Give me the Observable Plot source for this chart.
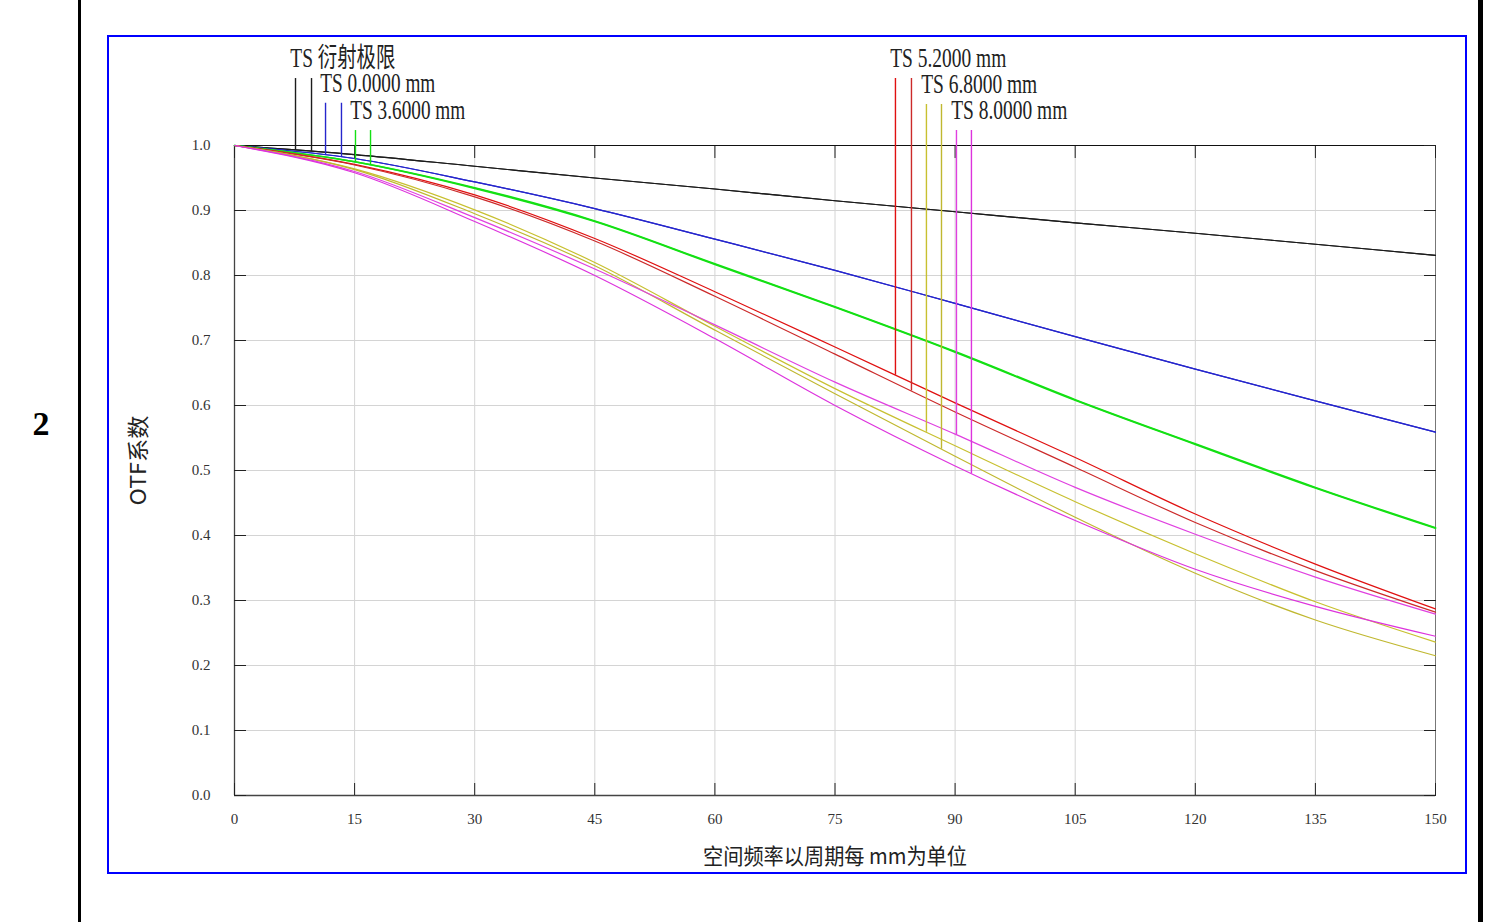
<!DOCTYPE html>
<html>
<head>
<meta charset="utf-8">
<script src="https://cdn.jsdelivr.net/npm/d3@7"></script>
<script src="https://cdn.jsdelivr.net/npm/@observablehq/plot@0.6"></script>
<style>
  body { margin: 0; background: #fff; }
  #wrap { position: relative; width: 1485px; height: 922px; overflow: hidden; background: #fff; }
  #chart { position: absolute; left: 0; top: 0; }
  .vline { position: absolute; top: 0; height: 922px; background: #000; }
  #blueBox { position: absolute; left: 107px; top: 35px; width: 1356px; height: 835px; border: 2px solid #0000ff; box-sizing: content-box; pointer-events: none; }
  #rowNum { position: absolute; left: 28px; top: 405px; width: 26px; text-align: center; font-family: "Liberation Serif", serif; font-weight: bold; font-size: 34px; }
</style>
</head>
<body>
<div id="wrap">
  <div class="vline" style="left:78px;width:3px;"></div>
  <div class="vline" style="left:1478px;width:5px;"></div>
  <div id="blueBox"></div>
  <div id="rowNum">2</div>
  <div id="chart"></div>
</div>
<script>
// ---- data ----
const freq = [0, 15, 30, 45, 60, 75, 90, 105, 120, 135, 150];

const diffT = [1.000, 0.986, 0.968, 0.950, 0.933, 0.915, 0.898, 0.881, 0.865, 0.848, 0.831];
const diffS = [1.000, 0.986, 0.968, 0.950, 0.933, 0.915, 0.898, 0.881, 0.865, 0.848, 0.831];
const f0T   = [1.000, 0.980, 0.944, 0.903, 0.856, 0.808, 0.757, 0.706, 0.656, 0.607, 0.559];
const f0S   = [1.000, 0.980, 0.944, 0.903, 0.856, 0.808, 0.757, 0.706, 0.656, 0.607, 0.559];
const f36T  = [1.000, 0.975, 0.935, 0.884, 0.818, 0.752, 0.683, 0.609, 0.541, 0.474, 0.412];
const f36S  = [1.000, 0.975, 0.934, 0.883, 0.817, 0.751, 0.682, 0.608, 0.540, 0.473, 0.411];
const f52T  = [1.000, 0.971, 0.924, 0.857, 0.775, 0.690, 0.604, 0.520, 0.433, 0.356, 0.287];
const f52S  = [1.000, 0.970, 0.921, 0.853, 0.768, 0.679, 0.590, 0.505, 0.420, 0.346, 0.282];
const f68T  = [1.000, 0.964, 0.901, 0.820, 0.722, 0.626, 0.538, 0.452, 0.372, 0.298, 0.236];
const f68S  = [1.000, 0.963, 0.895, 0.815, 0.716, 0.618, 0.522, 0.428, 0.342, 0.270, 0.215];
const f80T  = [1.000, 0.960, 0.889, 0.810, 0.724, 0.636, 0.556, 0.474, 0.402, 0.336, 0.279];
const f80S  = [1.000, 0.958, 0.883, 0.800, 0.703, 0.600, 0.507, 0.423, 0.348, 0.291, 0.245];

const xTicks = [0, 15, 30, 45, 60, 75, 90, 105, 120, 135, 150];
const yTicks = [0, 0.1, 0.2, 0.3, 0.4, 0.5, 0.6, 0.7, 0.8, 0.9, 1.0];

const legendNames = ["TS 衍射极限", "TS 0.0000 mm", "TS 3.6000 mm", "TS 5.2000 mm", "TS 6.8000 mm", "TS 8.0000 mm"];
const xTitle = "空间频率以周期每 mm为单位";
const yTitle = "OTF系数";

// ---- styles / annotation layout ----
const series = [
  {values: diffT, color: "#1c1c1c", width: 1.1},
  {values: diffS, color: "#1c1c1c", width: 1.1},
  {values: f0T,   color: "#2626cc", width: 1.2},
  {values: f0S,   color: "#2626cc", width: 1.2},
  {values: f36T,  color: "#14e014", width: 1.6},
  {values: f36S,  color: "#14e014", width: 1.6},
  {values: f52T,  color: "#e01010", width: 1.2},
  {values: f52S,  color: "#cc2a2a", width: 1.2},
  {values: f68T,  color: "#c8c030", width: 1.2},
  {values: f68S,  color: "#c0b830", width: 1.2},
  {values: f80T,  color: "#e040e0", width: 1.2},
  {values: f80S,  color: "#dd33dd", width: 1.2}
];
// leader-line positions (frequency units) and top ends (OTF units), one per series line
const leaderX   = [7.62, 9.62, 11.37, 13.36, 15.11, 16.99, 82.55, 84.55, 86.42, 88.30, 90.17, 92.04];
const leaderTop = [1.103, 1.103, 1.065, 1.065, 1.023, 1.023, 1.103, 1.103, 1.063, 1.063, 1.023, 1.023];
const labelDx = -0.65, labelDy = 0.031;
const labelWidths = [105, 115, 115, 116, 116, 116];
const xTitleWidth = 264, yTitleWidth = 90;

const rows = [];
series.forEach((s, i) => freq.forEach((f, j) => rows.push({id: i, f, v: s.values[j]})));

const leaders = series.map((s, i) => {
  const interp = d3.scaleLinear().domain(freq).range(s.values);
  return {x: leaderX[i], top: leaderTop[i], bottom: interp(leaderX[i]), color: s.color};
});
const labels = legendNames.map((t, k) => ({
  text: t,
  x: leaderX[2 * k] + labelDx,
  y: leaderTop[2 * k] + labelDy
}));

const serif = "'Liberation Serif', 'Noto Sans CJK SC', serif";
const cjk = "'Noto Sans CJK SC', 'Liberation Serif', sans-serif";

const chart = Plot.plot({
  width: 1485,
  height: 922,
  marginLeft: 234,
  marginRight: 50,
  marginTop: 145,
  marginBottom: 127,
  style: {fontFamily: serif, fontSize: "15px", color: "#333", background: "transparent"},
  color: {type: "identity"},
  x: {domain: [0, 150]},
  y: {domain: [0, 1]},
  marks: [
    Plot.gridX(xTicks, {stroke: "#d4d4d4", strokeOpacity: 1}),
    Plot.gridY(yTicks, {stroke: "#d4d4d4", strokeOpacity: 1}),
    Plot.ruleY([1], {stroke: "#111"}),
    Plot.ruleX([150], {stroke: "#777"}),
    Plot.ruleX([0], {stroke: "#444", strokeWidth: 1.3}),
    Plot.ruleY([0], {stroke: "#444", strokeWidth: 1.3}),
    Plot.axisX(xTicks, {anchor: "bottom", tickSize: -12, tickPadding: 30, stroke: "#222", tickFormat: d => String(d), fill: "#333", label: null}),
    Plot.axisX(xTicks, {anchor: "top", tickSize: -12, stroke: "#222", tickFormat: () => "", label: null}),
    Plot.axisY(yTicks, {anchor: "left", tickSize: -12, tickPadding: 36, stroke: "#222", tickFormat: d3.format(".1f"), fill: "#333", label: null}),
    Plot.axisY(yTicks, {anchor: "right", tickSize: -12, stroke: "#222", tickFormat: () => "", label: null}),
    ...series.map((s, i) => Plot.line(rows.filter(r => r.id === i), {
      x: "f", y: "v", stroke: s.color, strokeWidth: s.width, curve: "monotone-x"
    })),
    Plot.ruleX(leaders, {x: "x", y1: "top", y2: "bottom", stroke: "color", strokeWidth: 1.4}),
    Plot.text(labels, {
      x: "x", y: "y", text: "text", textAnchor: "start", lineAnchor: "middle",
      fontSize: 27, fontFamily: serif, fill: "#222"
    }),
    Plot.text([xTitle], {frameAnchor: "bottom", dy: 61, fontSize: 22, fontFamily: cjk, fill: "#222", textAnchor: "middle", lineAnchor: "middle"}),
    Plot.text([yTitle], {frameAnchor: "left", dx: -96, dy: -10, rotate: -90, fontSize: 22, fontFamily: cjk, fill: "#222", textAnchor: "middle", lineAnchor: "middle"})
  ]
});

const widthFor = new Map(legendNames.map((t, i) => [t, labelWidths[i]]));
widthFor.set(xTitle, xTitleWidth);
widthFor.set(yTitle, yTitleWidth);
d3.select(chart).selectAll("text").each(function () {
  const w = widthFor.get(this.textContent);
  if (w) {
    this.setAttribute("textLength", w);
    this.setAttribute("lengthAdjust", "spacingAndGlyphs");
  }
});

document.getElementById("chart").appendChild(chart);
</script>
</body>
</html>
